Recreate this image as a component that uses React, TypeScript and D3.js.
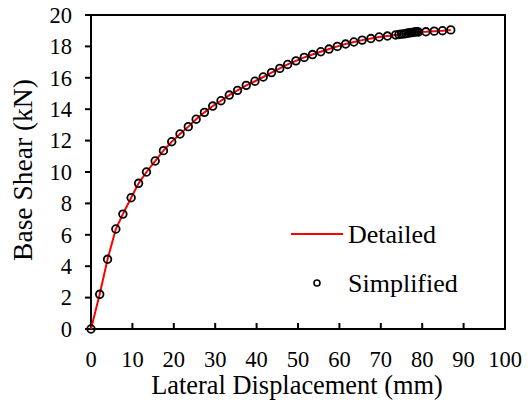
import React from "react";
import * as d3 from "d3";

const simplifiedDisp = [0, 2.1, 4.0, 6.0, 7.7, 9.7, 11.5, 13.4, 15.5, 17.5, 19.5, 21.5, 23.5, 25.4, 27.4, 29.4, 31.4, 33.4, 35.4, 37.5, 39.6, 41.6, 43.6, 45.6, 47.5, 49.5, 51.5, 53.5, 55.5, 57.5, 59.5, 61.5, 63.5, 65.5, 67.6, 69.6, 71.6, 73.6, 74.4, 75.0, 75.6, 76.1, 76.6, 77.1, 77.5, 77.9, 78.3, 78.7, 79.1, 80.9, 82.9, 84.9, 86.9];
const simplifiedShear = [0, 2.21, 4.44, 6.37, 7.32, 8.36, 9.28, 10.0, 10.7, 11.36, 11.93, 12.42, 12.89, 13.36, 13.8, 14.2, 14.54, 14.9, 15.2, 15.52, 15.78, 16.05, 16.33, 16.6, 16.85, 17.08, 17.3, 17.48, 17.66, 17.83, 18.0, 18.15, 18.28, 18.4, 18.5, 18.6, 18.66, 18.73, 18.76, 18.78, 18.8, 18.82, 18.85, 18.87, 18.88, 18.9, 18.92, 18.93, 18.92, 18.93, 18.97, 19.0, 19.05];

const detailedDisp = simplifiedDisp;
const detailedShear = simplifiedShear;

const xTicks = [0, 10, 20, 30, 40, 50, 60, 70, 80, 90, 100];
const yTicks = [0, 2, 4, 6, 8, 10, 12, 14, 16, 18, 20];

const FONT = "'Liberation Serif', 'Times New Roman', serif";

export default function App() {
  const W = 532, H = 406;
  const L = 91, R = 505, T = 15, B = 329;
  const x = d3.scaleLinear().domain([0, 100]).range([L, R]);
  const y = d3.scaleLinear().domain([0, 20]).range([B, T]);
  const line = d3.line<number>().x((_, i) => x(detailedDisp[i])).y((_, i) => y(detailedShear[i]));
  const linePath = line(detailedDisp) || "";

  return (
    <svg width={W} height={H} style={{ position: "absolute", left: 0, top: 0 }}>
      <rect x={0} y={0} width={W} height={H} fill="#fff" />
      <rect x={L} y={T} width={R - L} height={B - T} fill="none" stroke="#000" strokeWidth={2} />
      {yTicks.map((t) => (
        <g key={"y" + t}>
          <line x1={L - 6} x2={L} y1={y(t)} y2={y(t)} stroke="#000" strokeWidth={2} />
          <text x={72} y={y(t)} dy="0.35em" textAnchor="end" fontFamily={FONT} fontSize={22.5} fill="#000">{t}</text>
        </g>
      ))}
      {xTicks.map((t) => (
        <g key={"x" + t}>
          <line x1={x(t)} x2={x(t)} y1={B} y2={B - 6} stroke="#000" strokeWidth={2} />
          <text x={x(t)} y={367} textAnchor="middle" fontFamily={FONT} fontSize={22.5} fill="#000">{t}</text>
        </g>
      ))}
      <path d={linePath} fill="none" stroke="#ff0000" strokeWidth={2} />
      {simplifiedDisp.map((d, i) => (
        <circle key={"c" + i} cx={x(d)} cy={y(simplifiedShear[i])} r={3.8} fill="none" stroke="#000" strokeWidth={1.8} />
      ))}
      <text x={297} y={394} textAnchor="middle" fontFamily={FONT} fontSize={26.4} fill="#000">Lateral Displacement (mm)</text>
      <text transform={`translate(32,170) rotate(-90)`} textAnchor="middle" fontFamily={FONT} fontSize={27.5} fill="#000">Base Shear (kN)</text>
      <line x1={291} x2={343} y1={234} y2={234} stroke="#ff0000" strokeWidth={2} />
      <text x={348} y={243} fontFamily={FONT} fontSize={26} fill="#000">Detailed</text>
      <circle cx={317} cy={283} r={3} fill="none" stroke="#000" strokeWidth={1.6} />
      <text x={348} y={292} fontFamily={FONT} fontSize={26} fill="#000">Simplified</text>
    </svg>
  );
}
